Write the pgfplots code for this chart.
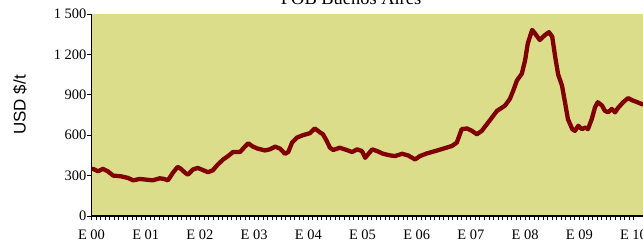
\documentclass[border=0pt]{standalone}
\usepackage{pgfplots}
\pgfplotsset{compat=1.18}
\usepackage{fontspec}
\setmainfont{Liberation Serif}
\newfontfamily\labfont{Liberation Sans}
\definecolor{plotbg}{RGB}{220,221,138}
\definecolor{linered}{RGB}{128,0,0}
\begin{document}
\begin{tikzpicture}
\useasboundingbox (0,0) rectangle (643bp,248bp);
\clip (0,0) rectangle (643bp,248bp);
\begin{axis}[
  at={(91.5bp,32bp)}, anchor=south west,
  scale only axis, width=558.26bp, height=202bp,
  xmin=0, xmax=10.3, ymin=0, ymax=1500,
  axis x line=bottom, axis y line=left,
  axis line style={-, line width=1.8bp, black},
  axis background/.style={fill=plotbg},
  /pgf/number format/assume math mode=true,
  xtick={0,1,2,3,4,5,6,7,8,9,10},
  xticklabels={E\ 00,E\ 01,E\ 02,E\ 03,E\ 04,E\ 05,E\ 06,E\ 07,E\ 08,E\ 09,E\ 10},
  minor x tick num=11,
  ytick={0,300,600,900,1200,1500},
  yticklabels={0,300,600,900,1\ 200,1\ 500},
  tick align=outside,
  major tick length=4bp, minor tick length=4bp,
  tick style={black, line width=0.9bp},
  xticklabel style={font=\fontsize{14.5}{16}\selectfont, inner sep=0pt, anchor=north},
  yticklabel style={font=\fontsize{14.5}{16}\selectfont, inner sep=0pt, anchor=east},
  xtick pos=bottom, ytick pos=left,
  x tick label style={yshift=-10bp},
  y tick label style={xshift=-1bp},
  ylabel={\labfont\fontsize{17}{19}\selectfont USD \$/t},
  ylabel style={at={(axis description cs:-0.128,0.55)}, anchor=center},
  every axis title shift=0pt,
  title={FOB Buenos Aires},
  title style={font=\fontsize{18.5}{20}\selectfont, at={(axis description cs:0.465,1.045)}, anchor=base, inner sep=0pt},
  clip=true,
]
\addplot[linered, line width=4.3bp, line join=round, line cap=round] table {
x y
0.03 350
0.12 332
0.21 350
0.30 332
0.40 300
0.54 295
0.67 283
0.77 265
0.89 275
1.01 270
1.13 265
1.26 280
1.34 275
1.41 265
1.50 320
1.59 365
1.65 350
1.73 320
1.78 307
1.87 345
1.96 357
2.05 342
2.15 325
2.24 340
2.33 382
2.43 420
2.52 445
2.61 475
2.74 475
2.83 515
2.89 540
2.98 515
3.07 500
3.20 487
3.29 495
3.39 515
3.48 500
3.57 462
3.63 475
3.70 545
3.79 582
3.90 600
4.03 615
4.12 650
4.22 620
4.27 607
4.34 557
4.40 507
4.46 490
4.58 507
4.71 490
4.81 475
4.90 495
4.99 482
5.05 432
5.10 457
5.18 495
5.27 482
5.38 462
5.51 450
5.60 445
5.73 462
5.84 450
5.97 420
6.06 445
6.19 465
6.34 482
6.49 500
6.65 520
6.74 545
6.83 645
6.93 650
7.02 632
7.11 607
7.20 632
7.32 695
7.48 780
7.63 820
7.72 870
7.78 930
7.85 1007
7.94 1057
8.00 1157
8.05 1282
8.13 1382
8.18 1357
8.27 1307
8.37 1345
8.44 1365
8.50 1332
8.56 1170
8.61 1050
8.68 970
8.74 835
8.79 720
8.87 645
8.92 632
8.98 670
9.05 645
9.11 657
9.16 645
9.23 720
9.29 807
9.34 845
9.42 820
9.47 782
9.53 770
9.60 795
9.66 770
9.71 800
9.81 845
9.90 875
9.99 857
10.07 845
10.16 830
10.25 825
};
\end{axis}
\end{tikzpicture}
\end{document}
